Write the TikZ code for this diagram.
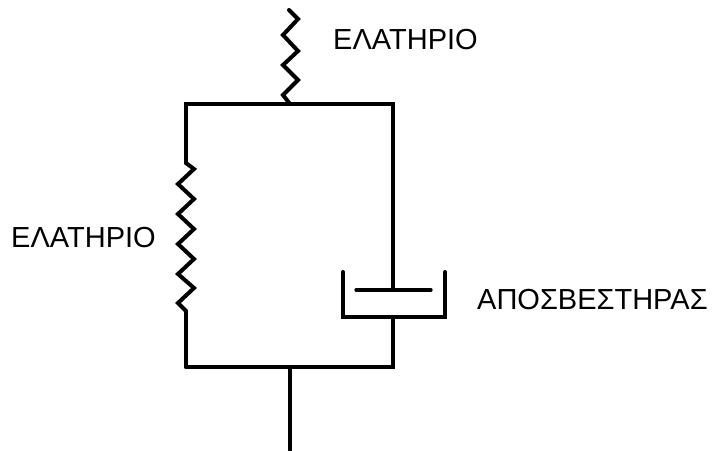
\documentclass[tikz,border=0pt]{standalone}
\usepackage{fontspec}
\setmainfont{Liberation Sans}
\tikzset{
	bar/.style={line width=4pt, line cap=round, line join=miter},
	spring/.style={line width=4pt, line cap=round, line join=miter},
	thin bar/.style={line width=3.2pt, line cap=round},
	label/.style={inner sep=0pt, anchor=west, font=\fontsize{29}{29}\selectfont}
}
\begin{document}
\begin{tikzpicture}[x=1pt, y=-1pt]
	\useasboundingbox (0,0) rectangle (715,450);
	%Points du cadre
	\coordinate (TS) at (289,10);
	\coordinate (TM) at (290,104);
	\coordinate (TL) at (186,104);
	\coordinate (TR) at (393,104);
	\coordinate (BL) at (186,367);
	\coordinate (BR) at (393,367);
	\coordinate (BM) at (290,367);
	\coordinate (END) at (290,450);
	\coordinate (SL1) at (186,163);
	\coordinate (SL2) at (186,311);
	\coordinate (P) at (393,290);
	\coordinate (PL) at (356,290);
	\coordinate (PR) at (431,290);
	\coordinate (DL) at (343,272);
	\coordinate (DR) at (445,272);
	\coordinate (DBL) at (343,317);
	\coordinate (DBR) at (445,317);
	\coordinate (DB) at (393,317);
	%Textes
	\node[label] (E1) at (333,40) {ΕΛΑΤΗΡΙΟ};
	\node[label] (E2) at (11,238) {ΕΛΑΤΗΡΙΟ};
	\node[label] (A1) at (477,300) {ΑΠΟΣΒΕΣΤΗΡΑΣ};
	%Cadre
	\draw[bar] (BL) -- (SL2);
	\draw[bar] (SL1) -- (TL) -- (TR) -- (P);
	\draw[bar] (DB) -- (BR) -- (BL);
	\draw[bar] (BM) -- (END);
	%Ressorts
	\draw[spring] (TS) -- (298,19) -- (283,35) -- (298,51) -- (283,65) -- (298,80) -- (283,95) -- (TM);
	\draw[spring] (SL1) -- (194,169) -- (178,184) -- (194,199) -- (178,214) -- (194,229) -- (178,244) -- (194,259) -- (178,274) -- (194,288) -- (178,303) -- (SL2);
	%Amortisseur
	\draw[bar] (DL) -- (DBL) -- (DBR) -- (DR);
	\draw[thin bar] (PL) -- (PR);
\end{tikzpicture}
\end{document}
